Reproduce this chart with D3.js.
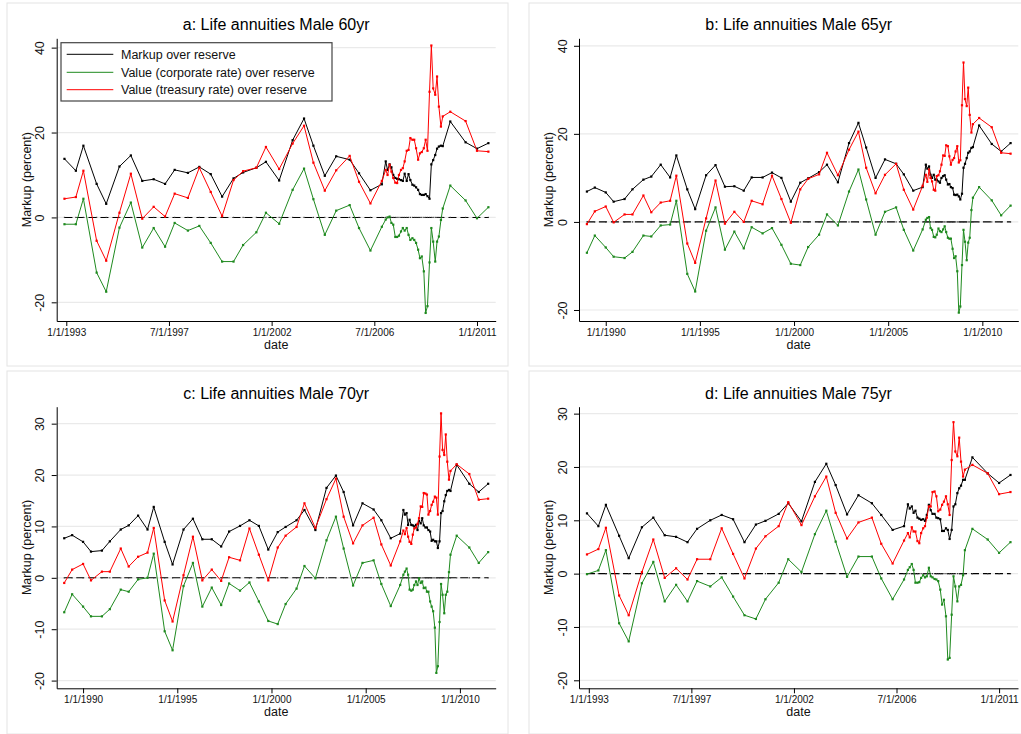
<!DOCTYPE html>
<html>
<head>
<meta charset="utf-8">
<script src="https://cdn.jsdelivr.net/npm/d3@7"></script>
<style>
  body { margin: 0; background: #fff; }
  svg { display: block; font-family: "Liberation Sans", Arial, Helvetica, sans-serif; }
</style>
</head>
<body>
<div id="chart"></div>
<script>
// Dates as decimal years. Panels b and c start in 1989, panels a and d in late 1992.
const datesEarly = [1989.0, 1989.42, 1990.0, 1990.42, 1991.0, 1991.42, 1992.0, 1992.42];
const datesMain = [
  1992.92, 1993.42, 1993.75, 1994.33, 1994.75, 1995.33, 1995.83, 1996.33, 1996.83, 1997.33,
  1997.75, 1998.33, 1998.83, 1999.33, 1999.83, 2000.33, 2000.75, 2001.33, 2001.75, 2002.33,
  2002.92, 2003.42, 2003.83, 2004.33, 2004.83, 2005.42, 2005.83, 2006.33, 2006.83,
  2007.0, 2007.08, 2007.17, 2007.25, 2007.33, 2007.42, 2007.5, 2007.58, 2007.67, 2007.75,
  2007.83, 2007.92, 2008.0, 2008.08, 2008.17, 2008.25, 2008.33, 2008.42, 2008.5, 2008.58,
  2008.67, 2008.75, 2008.83, 2008.92, 2009.0, 2009.08, 2009.17, 2009.25, 2009.33, 2009.42,
  2009.5,
  2009.83, 2010.5, 2011.0, 2011.5
];
const datesLong = datesEarly.concat(datesMain);

// a: Male 60yr
const markupA = [
  13.8, 11.0, 16.9, 7.9, 3.2, 12.0, 14.6, 8.6, 9.0, 7.9, 11.2, 10.5, 11.9, 10.2, 4.9,
  9.2, 10.6, 11.7, 13.1, 8.7, 18.2, 23.3, 16.9, 9.8, 14.4, 13.6, 10.4, 6.4, 7.8,
  13.2, 11.2, 12.5, 11.8, 10.0, 9.3, 9.1, 9.0, 8.8, 8.6, 10.3, 8.6, 10.2, 8.8, 7.7,
  7.5, 7.1, 6.5, 5.5, 5.3, 5.3, 5.5, 5.0, 4.4, 12.5, 13.5, 14.7, 16.2, 16.7, 16.9, 16.8,
  22.6, 17.7, 16.2, 17.5
];
const corpA = [
  -1.6, -1.6, 4.4, -13.0, -17.5, -2.4, 3.5, -7.1, -2.5, -6.9, -1.3, -3.1, -2.0, -6.0, -10.4,
  -10.4, -6.5, -3.5, 1.1, -1.5, 6.5, 11.5, 4.3, -4.1, 1.6, 2.9, -2.5, -7.8, -2.2,
  -0.5, 0.0, 0.2, -1.3, -1.7, -4.6, -4.6, -4.3, -3.3, -2.5, -3.1, -2.5, -4.1, -5.3, -4.9,
  -5.3, -6.0, -7.6, -9.6, -9.2, -12.7, -22.5, -20.9, -10.6, -2.5, -5.7, -10.4, -5.7, -4.5, -0.6, 2.1,
  7.5, 4.0, -0.2, 2.4
];
const treasA = [
  4.4, 4.8, 11.0, -5.5, -10.2, 1.1, 10.3, -0.3, 2.5, 0.2, 5.6, 4.6, 11.7, 6.0, 0.3,
  8.8, 10.9, 11.7, 16.6, 11.4, 17.4, 21.6, 12.9, 6.3, 11.1, 14.5, 8.4, 3.3, 8.6,
  11.2, 10.0, 12.4, 10.8, 9.3, 8.2, 8.1, 10.0, 11.2, 11.6, 13.2, 15.7, 15.9, 18.7, 18.3,
  18.3, 16.3, 13.6, 15.1, 15.4, 16.3, 18.3, 15.7, 29.6, 40.5, 30.4, 28.9, 33.2, 26.1, 21.4, 23.8,
  24.9, 22.7, 15.7, 15.5
];

// b: Male 65yr
const markupB = [
  6.9, 7.8, 6.7, 4.6, 5.2, 7.4, 9.6, 10.3,
  13.0, 10.1, 15.1, 7.4, 2.9, 10.6, 12.9, 8.0, 8.1, 7.1, 10.1, 10.1, 11.2, 10.0, 4.6,
  8.9, 9.9, 11.3, 13.0, 9.0, 17.9, 22.5, 16.9, 10.0, 14.2, 13.2, 10.8, 7.1, 7.9,
  13.0, 12.1, 12.6, 10.7, 10.0, 10.7, 9.6, 9.6, 9.2, 8.9, 10.0, 10.4, 10.6, 9.6, 8.5,
  8.6, 7.9, 7.7, 6.2, 6.1, 6.2, 5.8, 5.1, 6.4, 12.3, 13.2, 14.5, 15.7, 16.0, 16.8, 17.0,
  21.9, 17.7, 16.0, 17.9
];
const corpB = [
  -7.0, -3.1, -5.8, -7.9, -8.2, -6.8, -3.1, -3.3,
  -0.8, -0.6, 4.8, -11.8, -15.8, -2.0, 3.3, -6.3, -2.2, -6.0, -1.2, -2.6, -1.4, -5.2, -9.5,
  -9.8, -5.7, -2.9, 1.7, -0.8, 6.9, 11.9, 5.1, -2.9, 2.3, 3.3, -1.8, -6.5, -1.7,
  0.5, 0.9, 1.1, -1.4, -1.8, -3.4, -3.5, -2.9, -1.5, -2.1, -2.3, -1.7, -1.0, -2.3, -3.6,
  -3.8, -3.8, -6.1, -8.2, -7.8, -11.2, -20.6, -19.2, -9.8, -1.8, -4.5, -8.7, -4.7, -3.6, 2.7, 5.5,
  7.9, 4.9, 1.5, 3.7
];
const treasB = [
  -0.5, 2.4, 3.5, -0.1, 1.7, 1.7, 6.0, 2.2,
  4.4, 4.8, 10.5, -4.9, -9.3, 0.8, 9.4, -0.4, 2.3, 0.0, 4.8, 4.0, 10.5, 5.2, -0.2,
  7.4, 9.8, 10.8, 15.7, 10.6, 16.4, 20.5, 12.3, 6.5, 10.7, 13.2, 7.3, 2.8, 8.2,
  10.7, 9.1, 11.9, 10.0, 9.2, 7.3, 7.1, 10.4, 10.6, 11.5, 13.0, 15.1, 15.0, 17.4, 17.2,
  14.9, 13.0, 14.1, 14.5, 16.0, 17.2, 13.5, 14.0, 26.5, 36.2, 27.9, 26.3, 30.5, 24.3, 20.3, 22.2,
  23.6, 21.5, 15.7, 15.5
];

// c: Male 70yr
const markupC = [
  7.7, 8.3, 7.0, 5.1, 5.3, 7.1, 9.4, 10.2,
  12.1, 9.4, 13.8, 7.0, 2.6, 9.4, 11.5, 7.5, 7.5, 6.1, 9.0, 10.1, 11.2, 10.1, 5.5,
  8.9, 9.9, 11.2, 13.2, 9.3, 17.5, 19.9, 16.7, 10.2, 14.5, 13.3, 11.2, 7.7, 8.6,
  13.2, 12.3, 12.6, 10.3, 11.3, 10.3, 10.2, 10.0, 10.3, 9.3, 11.1, 10.6, 11.6, 10.2, 9.8,
  9.8, 9.3, 9.0, 7.2, 7.4, 7.1, 7.1, 5.8, 7.1, 12.6, 13.0, 14.9, 16.1, 16.9, 17.1, 16.9,
  22.0, 18.3, 16.7, 18.3
];
const corpC = [
  -6.7, -3.2, -5.6, -7.5, -7.5, -6.1, -2.3, -2.7,
  -0.3, 0.0, 4.7, -10.4, -14.1, -1.6, 2.9, -5.6, -1.9, -5.3, -1.1, -2.5, -0.9, -4.6, -8.4,
  -9.0, -5.1, -2.1, 2.3, -0.1, 7.3, 11.9, 5.7, -1.5, 2.9, 3.4, -1.2, -5.5, -1.4,
  0.6, 1.2, 1.8, 0.6, -2.3, -2.5, -2.3, -1.4, -0.7, -1.4, -0.1, -1.0, -0.7, -2.0, -1.9,
  -2.7, -2.7, -4.6, -5.6, -6.5, -9.7, -18.5, -17.2, -8.6, -1.2, -3.3, -6.9, -3.3, -2.7, 1.1, 4.5,
  8.2, 5.9, 2.9, 5.0
];
const treasC = [
  -1.0, 1.6, 2.7, -0.5, 1.2, 1.2, 5.7, 2.2,
  4.1, 4.9, 9.7, -4.4, -8.5, 0.5, 8.0, -0.5, 1.6, -0.6, 4.0, 3.4, 9.6, 4.5, -0.5,
  5.9, 8.2, 9.9, 14.5, 9.7, 15.3, 19.3, 11.9, 6.7, 10.2, 11.7, 6.5, 2.4, 7.1,
  9.2, 8.5, 9.7, 8.0, 7.0, 6.6, 8.4, 9.6, 9.8, 10.5, 11.6, 13.9, 13.8, 16.5, 16.4,
  16.2, 12.3, 13.0, 14.2, 14.8, 15.8, 15.6, 12.3, 23.6, 32.0, 24.9, 23.9, 27.9, 22.6, 19.1, 20.8,
  22.1, 20.2, 15.2, 15.4
];

// d: Male 75yr
const markupD = [
  11.3, 8.9, 12.9, 7.1, 2.9, 8.7, 10.5, 7.2, 6.9, 5.9, 8.4, 10.0, 11.0, 10.2, 5.9,
  9.2, 9.9, 11.2, 13.2, 9.8, 17.2, 20.6, 16.6, 11.1, 14.7, 13.2, 11.0, 8.2, 8.9,
  13.0, 12.2, 12.6, 11.4, 11.8, 10.5, 10.3, 10.1, 10.2, 9.9, 11.0, 12.9, 11.9, 11.2, 11.2,
  10.5, 10.4, 10.2, 8.0, 8.0, 8.5, 8.2, 6.5, 8.2, 12.6, 13.0, 15.1, 16.0, 16.5, 17.6, 17.6,
  21.8, 18.8, 17.0, 18.5
];
const corpD = [
  -0.1, 0.6, 4.4, -9.3, -12.7, -1.8, 2.2, -5.2, -2.1, -5.2, -1.4, -2.4, -0.7, -4.3, -7.8,
  -8.5, -4.8, -1.7, 2.7, 0.3, 7.4, 11.8, 6.0, -0.6, 3.2, 3.2, -0.9, -4.8, -1.1,
  0.7, 1.2, 1.8, 0.7, -1.7, -1.7, -1.6, -0.8, -0.3, -0.7, -0.5, 1.1, -0.5, -0.7, -1.0,
  -1.1, -1.4, -3.0, -5.8, -4.9, -8.0, -16.1, -15.8, -7.7, -0.5, -2.4, -5.2, -2.4, -2.1, -0.3, 4.4,
  8.4, 6.4, 3.9, 5.9
];
const treasD = [
  3.6, 4.6, 8.6, -4.1, -7.8, 0.3, 6.4, -0.8, 1.0, -1.1, 2.7, 2.7, 8.5, 3.7, -0.9,
  4.7, 7.0, 8.9, 13.4, 9.1, 14.5, 18.2, 11.4, 6.6, 9.6, 10.5, 5.6, 1.9, 6.2,
  7.6, 6.8, 8.7, 7.9, 7.9, 6.1, 5.7, 7.6, 8.5, 8.9, 10.5, 12.6, 12.6, 15.3, 15.4,
  14.5, 11.7, 12.0, 12.9, 13.5, 14.5, 13.0, 11.0, 21.3, 28.4, 22.9, 22.0, 25.5, 21.0, 18.2, 19.5,
  20.4, 18.8, 14.9, 15.3
];

const seriesNames = [
  "Markup over reserve",
  "Value (corporate rate) over reserve",
  "Value (treasury rate) over reserve"
];
const panelTitles = [
  "a: Life annuities Male 60yr",
  "b: Life annuities Male 65yr",
  "c: Life annuities Male 70yr",
  "d: Life annuities Male 75yr"
];
const xTicks1993 = [1993, 1997.5, 2002, 2006.5, 2011];
const xLabels1993 = ["1/1/1993", "7/1/1997", "1/1/2002", "7/1/2006", "1/1/2011"];
const xTicks1990 = [1990, 1995, 2000, 2005, 2010];
const xLabels1990 = ["1/1/1990", "1/1/1995", "1/1/2000", "1/1/2005", "1/1/2010"];
const yTicksTop = [-20, 0, 20, 40];
const yTicksBottom = [-20, -10, 0, 10, 20, 30];

const colors = ["#000000", "#1f8a1f", "#ff0000"];

// panel geometry
const panels = [
  { title: panelTitles[0], dates: datesMain, series: [markupA, corpA, treasA],
    xTicks: xTicks1993, xLabels: xLabels1993, yTicks: yTicksTop, legend: true,
    box: [7, 3, 501, 363], plot: { l: 56.7, r: 495.7, t: 38.3, b: 321 },
    xDom: [1992.58, 2011.82], yDom: [-24.4, 42.2] },
  { title: panelTitles[1], dates: datesLong, series: [markupB, corpB, treasB],
    xTicks: xTicks1990, xLabels: xLabels1990, yTicks: yTicksTop, legend: false,
    box: [529, 3, 501, 363], plot: { l: 579, r: 1018.3, t: 38.3, b: 321 },
    xDom: [1988.58, 2011.91], yDom: [-22.5, 41.7] },
  { title: panelTitles[2], dates: datesLong, series: [markupC, corpC, treasC],
    xTicks: xTicks1990, xLabels: xLabels1990, yTicks: yTicksBottom, legend: false,
    box: [7, 371, 501, 363], plot: { l: 56.7, r: 495.7, t: 406.7, b: 688.3 },
    xDom: [1988.6, 2011.9], yDom: [-21.5, 33.3] },
  { title: panelTitles[3], dates: datesMain, series: [markupD, corpD, treasD],
    xTicks: xTicks1993, xLabels: xLabels1993, yTicks: yTicksBottom, legend: false,
    box: [529, 371, 501, 363], plot: { l: 579, r: 1018, t: 406.7, b: 688.3 },
    xDom: [1992.57, 2011.83], yDom: [-21.5, 31.3] }
];

const svg = d3.select("#chart").append("svg")
  .attr("width", 1021)
  .attr("height", 734);

svg.append("rect").attr("width", 1021).attr("height", 734).attr("fill", "#fff");

panels.forEach(function(p) {
  p.series.forEach(function(s, i) {
    if (s.length !== p.dates.length) console.error(p.title, i, s.length, p.dates.length);
  });

  const g = svg.append("g");

  // graph region border
  g.append("rect")
    .attr("x", p.box[0]).attr("y", p.box[1])
    .attr("width", p.box[2]).attr("height", p.box[3])
    .attr("fill", "#fff")
    .attr("stroke", "#e4e4e4")
    .attr("stroke-width", 1);

  const x = d3.scaleLinear().domain(p.xDom).range([p.plot.l, p.plot.r]);
  const y = d3.scaleLinear().domain(p.yDom).range([p.plot.b, p.plot.t]);

  // gridlines
  g.append("g")
    .selectAll("line")
    .data(p.yTicks)
    .enter()
    .append("line")
    .attr("x1", p.plot.l).attr("x2", p.plot.r)
    .attr("y1", d => y(d)).attr("y2", d => y(d))
    .attr("stroke", "#eaeaea")
    .attr("stroke-width", 1.2);

  // zero reference line, dashed, with tiny markers
  g.append("path")
    .datum(p.dates)
    .attr("fill", "none")
    .attr("stroke", "#000")
    .attr("stroke-width", 1.1)
    .attr("stroke-dasharray", "8,4")
    .attr("d", d3.line().x(d => x(d)).y(() => y(0)));
  g.append("g")
    .selectAll("rect")
    .data(p.dates)
    .enter()
    .append("rect")
    .attr("x", d => x(d) - 0.6).attr("y", y(0) - 0.6)
    .attr("width", 1.2).attr("height", 1.2)
    .attr("fill", "#333");

  // series lines and markers
  p.series.forEach(function(vals, i) {
    const pts = p.dates.map((d, j) => [d, vals[j]]);
    g.append("path")
      .datum(pts)
      .attr("fill", "none")
      .attr("stroke", colors[i])
      .attr("stroke-width", 1)
      .attr("stroke-linejoin", "round")
      .attr("d", d3.line().x(d => x(d[0])).y(d => y(d[1])));
    g.append("g")
      .selectAll("rect")
      .data(pts)
      .enter()
      .append("rect")
      .attr("x", d => x(d[0]) - 1.1).attr("y", d => y(d[1]) - 1.1)
      .attr("width", 2.2).attr("height", 2.2)
      .attr("fill", colors[i]);
  });

  // y axis
  const yAxis = g.append("g")
    .attr("transform", `translate(${p.plot.l},0)`)
    .call(d3.axisLeft(y).tickValues(p.yTicks).tickSize(5).tickSizeOuter(0).tickFormat(d => String(d)));
  yAxis.select(".domain").attr("stroke", "#000");
  yAxis.selectAll(".tick line").attr("stroke", "#000");
  yAxis.selectAll(".tick text")
    .attr("transform", "rotate(-90)")
    .attr("x", 0)
    .attr("y", -16.7)
    .attr("dy", "0.35em")
    .attr("text-anchor", "middle")
    .style("font-size", "12.5px")
    .style("font-family", '"Liberation Sans", Arial, sans-serif')
    .attr("fill", "#111");

  // x axis
  const xAxis = g.append("g")
    .attr("transform", `translate(0,${p.plot.b})`)
    .call(d3.axisBottom(x).tickValues(p.xTicks).tickSize(5).tickSizeOuter(0)
      .tickFormat((d, i) => p.xLabels[i]));
  xAxis.select(".domain").attr("stroke", "#000");
  xAxis.selectAll(".tick line").attr("stroke", "#000");
  xAxis.selectAll(".tick text")
    .style("font-size", "10px")
    .style("font-family", '"Liberation Sans", Arial, sans-serif')
    .attr("fill", "#111");

  const cx = (p.plot.l + p.plot.r) / 2;

  // titles
  g.append("text")
    .attr("x", cx).attr("y", p.plot.t - 8)
    .attr("text-anchor", "middle")
    .style("font-size", "16px")
    .attr("fill", "#000")
    .text(p.title);

  g.append("text")
    .attr("x", cx).attr("y", p.plot.b + 28)
    .attr("text-anchor", "middle")
    .style("font-size", "12.5px")
    .attr("fill", "#111")
    .text("date");

  const my = (p.plot.t + p.plot.b) / 2;
  g.append("text")
    .attr("transform", `translate(${p.plot.l - 30},${my}) rotate(-90)`)
    .attr("dy", "0.35em")
    .attr("text-anchor", "middle")
    .style("font-size", "12.5px")
    .attr("fill", "#111")
    .text("Markup (percent)");

  // legend
  if (p.legend) {
    const lg = g.append("g");
    lg.append("rect")
      .attr("x", 61).attr("y", 42.7)
      .attr("width", 271).attr("height", 58.3)
      .attr("fill", "#fff")
      .attr("stroke", "#444")
      .attr("stroke-width", 1.2);
    const rowY = [54.3, 72.3, 89.7];
    seriesNames.forEach(function(name, i) {
      lg.append("line")
        .attr("x1", 66.7).attr("x2", 113.3)
        .attr("y1", rowY[i]).attr("y2", rowY[i])
        .attr("stroke", colors[i])
        .attr("stroke-width", 1);
      lg.append("text")
        .attr("x", 121).attr("y", rowY[i])
        .attr("dy", "0.35em")
        .style("font-size", "12.5px")
        .attr("fill", "#111")
        .text(name);
    });
  }
});
</script>
</body>
</html>
